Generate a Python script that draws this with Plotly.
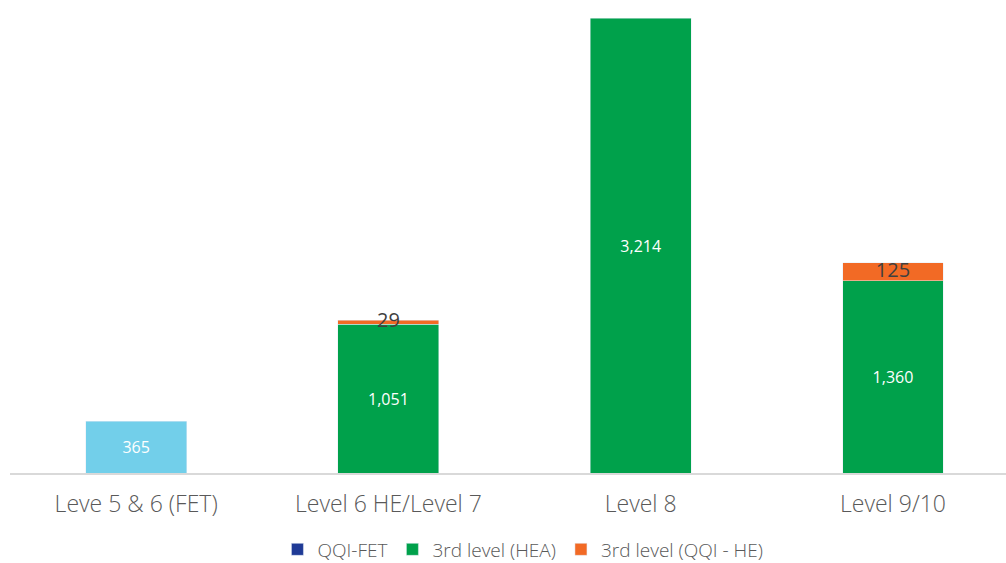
import plotly.graph_objects as go

categories = ["Leve 5 & 6 (FET)", "Level 6 HE/Level 7", "Level 8", "Level 9/10"]
qqi_fet = [365, None, None, None]
hea = [None, 1051, 3214, 1360]
qqi_he = [None, 29, None, 125]

FONT = "'Open Sans', sans-serif"
C_FET_BAR = "#72CFEA"
C_FET_LEG = "#1F3A96"
C_HEA = "#00A14B"
C_HE = "#F26A25"

fig = go.Figure()

fig.add_trace(go.Bar(
    x=categories, y=qqi_fet, marker_color=C_FET_BAR, showlegend=False,
    text=[f"{v:,}" if v else "" for v in qqi_fet], textposition="inside",
    insidetextanchor="middle", textfont=dict(color="white", size=16, family=FONT),
    width=0.4, hoverinfo="skip"))
fig.add_trace(go.Bar(
    x=[categories[0]], y=[None], marker_color=C_FET_LEG, name="QQI-FET", width=0.4))

fig.add_trace(go.Bar(
    x=categories, y=hea, marker_color=C_HEA, name="3rd level (HEA)",
    text=[f"{v:,}" if v else "" for v in hea], textposition="inside",
    insidetextanchor="middle", textfont=dict(color="white", size=16, family=FONT),
    width=0.4))

fig.add_trace(go.Bar(
    x=categories, y=qqi_he, marker_color=C_HE, name="3rd level (QQI - HE)",
    width=0.4, textposition="none"))

lab_x, lab_y, lab_t = [], [], []
for c, h, o in zip(categories, hea, qqi_he):
    if o:
        lab_x.append(c)
        lab_y.append((h or 0) + o / 2)
        lab_t.append(f"{o:,}")
fig.add_trace(go.Scatter(
    x=lab_x, y=lab_y, text=lab_t, mode="text", showlegend=False,
    textfont=dict(color="#404040", size=20, family=FONT), hoverinfo="skip"))

fig.update_layout(
    barmode="stack",
    width=1006, height=563,
    margin=dict(l=10, r=0, t=0, b=90, autoexpand=False),
    paper_bgcolor="white", plot_bgcolor="white",
    font=dict(family=FONT, color="#595959"),
    showlegend=True,
    legend=dict(orientation="h", x=0.515, xanchor="center",
                yref="container", y=0.024, yanchor="middle",
                font=dict(size=19, color="#595959", family=FONT, weight=300),
                itemwidth=30, traceorder="normal"),
    xaxis=dict(range=[-0.5, 3.448], showgrid=False, showline=True, linecolor="#D9D9D9",
               linewidth=2, ticks="outside", ticklen=9, tickcolor="rgba(0,0,0,0)",
               automargin=False,
               tickfont=dict(size=23, color="#595959", family=FONT, weight=300)),
    yaxis=dict(range=[0, 3343], visible=False, showgrid=False, automargin=False),
)

fig.write_html("out.html")
